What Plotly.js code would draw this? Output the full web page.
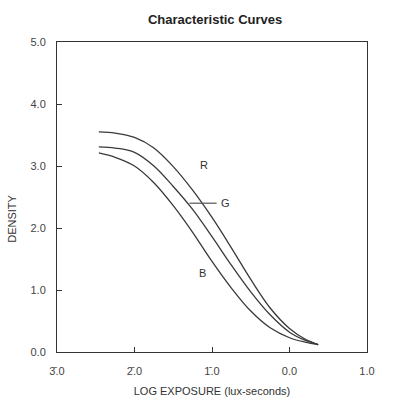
<!DOCTYPE html>
<html>
<head>
<meta charset="utf-8">
<script src="https://cdn.plot.ly/plotly-3.0.1.min.js"></script>
<style>html,body{margin:0;padding:0;background:#fff;}#chart{width:396px;height:400px;}</style>
</head>
<body>
<div id="chart"></div>
<script>
const exposure = [-2.46,-2.25,-2.0,-1.75,-1.5,-1.25,-1.0,-0.75,-0.5,-0.25,0.0,0.2,0.37];
const densityR = [3.55,3.53,3.46,3.29,2.99,2.61,2.17,1.68,1.17,0.71,0.38,0.21,0.12];
const densityG = [3.31,3.29,3.22,3.00,2.67,2.30,1.86,1.40,0.97,0.60,0.32,0.19,0.12];
const densityB = [3.21,3.14,3.00,2.73,2.36,1.93,1.46,1.03,0.66,0.39,0.23,0.16,0.12];
const xTickVals = [-3,-2,-1,0,1];
const xTickText = ["3\u0304.0","2\u0304.0","1\u0304.0","0.0","1.0"];
const yTickVals = [0,1,2,3,4,5];
const yTickText = ["0.0","1.0","2.0","3.0","4.0","5.0"];
const curveLabels = ["R","G","B"];
const labelX = [-1.109,-0.915,-1.122];
const labelY = [3.016,2.40,1.27];
const leaderX = [-1.29,-0.94];
const leaderY = [2.40,2.40];

const lineColor = '#3a3a3a';
const fontFam = '"Liberation Sans", Arial, Helvetica, sans-serif';
function curve(y){return {x:exposure,y:y,type:'scatter',mode:'lines',line:{color:lineColor,width:1.3,shape:'spline',smoothing:1},hoverinfo:'skip',showlegend:false};}
const data = [curve(densityR),curve(densityG),curve(densityB),
  {x:leaderX,y:leaderY,type:'scatter',mode:'lines',line:{color:'#555',width:1.2},showlegend:false,hoverinfo:'skip'}];

const annotations = curveLabels.map((t,i)=>({x:labelX[i],y:labelY[i],xref:'x',yref:'y',text:t,showarrow:false,
  xanchor: i===1?'left':'center',yanchor:'middle',font:{family:fontFam,size:11,color:'#333'}}));
annotations.push({x:-0.145,y:0.43,xref:'paper',yref:'paper',text:'DENSITY',textangle:-90,showarrow:false,
  xanchor:'center',yanchor:'middle',font:{family:fontFam,size:11,color:'#333'}});

const layout = {
  width:396,height:400,
  margin:{l:57,r:29,t:42,b:48},
  paper_bgcolor:'#fff',plot_bgcolor:'#fff',
  font:{family:fontFam,size:11,color:'#333'},
  title:{text:'<b>Characteristic Curves</b>',x:0.51,xref:'paper',y:0.952,yanchor:'middle',font:{family:fontFam,size:13,color:'#222'}},
  xaxis:{range:[-3,1],tickvals:xTickVals,ticktext:xTickText,ticks:'inside',ticklen:5,tickcolor:'#333',tickwidth:1,
    showline:true,linecolor:'#333',linewidth:1,mirror:true,showgrid:false,zeroline:false,ticklabelstandoff:9,
    title:{text:'LOG EXPOSURE (lux-seconds)',standoff:11,font:{family:fontFam,size:11,color:'#333'}},tickfont:{size:11,color:'#444'},fixedrange:true},
  yaxis:{range:[0,5],tickvals:yTickVals,ticktext:yTickText,ticks:'inside',ticklen:5,tickcolor:'#333',tickwidth:1,
    showline:true,linecolor:'#333',linewidth:1,mirror:true,showgrid:false,zeroline:false,ticklabelstandoff:8,
    tickfont:{size:11,color:'#444'},fixedrange:true},
  annotations:annotations
};
Plotly.newPlot('chart',data,layout,{staticPlot:true,displayModeBar:false});
</script>
</body>
</html>
